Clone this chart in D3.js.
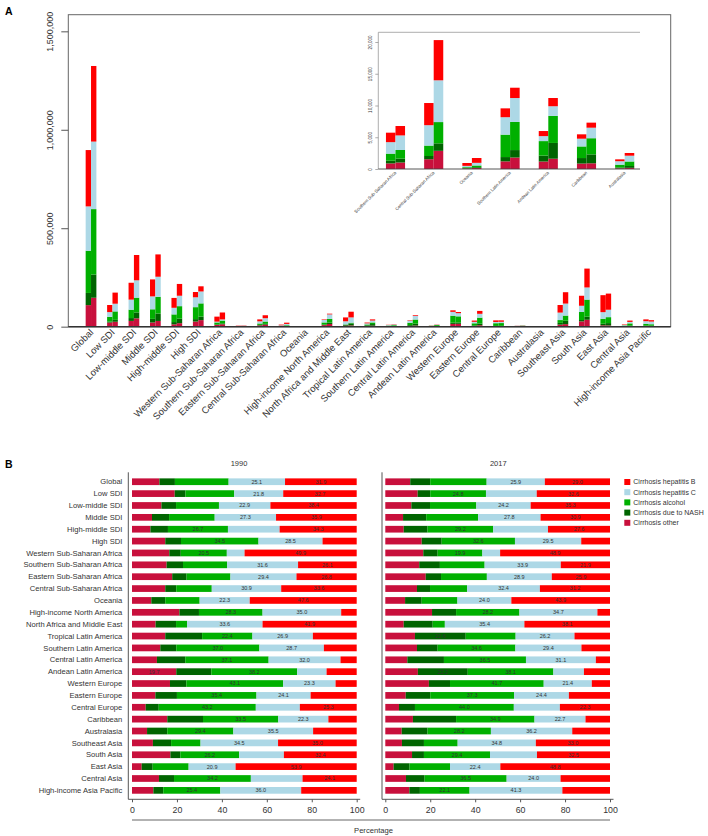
<!DOCTYPE html>
<html><head><meta charset="utf-8">
<script src="https://cdn.jsdelivr.net/npm/d3@7"></script>
<style>body{margin:0;background:#fff;} svg{display:block;font-family:"Liberation Sans",Arial,sans-serif;}</style>
</head><body><svg id="c" width="708" height="836"></svg>
<script>
const regions = ["Global","Low SDI","Low-middle SDI","Middle SDI","High-middle SDI","High SDI",
 "Western Sub-Saharan Africa","Southern Sub-Saharan Africa","Eastern Sub-Saharan Africa","Central Sub-Saharan Africa",
 "Oceania","High-income North America","North Africa and Middle East","Tropical Latin America","Southern Latin America",
 "Central Latin America","Andean Latin America","Western Europe","Eastern Europe","Central Europe","Caribbean",
 "Australasia","Southeast Asia","South Asia","East Asia","Central Asia","High-income Asia Pacific"];
const years = ["1990","2017"];
// stacking order (bottom/left first)
const causes = ["Cirrhosis other","Cirrhosis due to NASH","Cirrhosis alcohol","Cirrhosis hepatitis C","Cirrhosis hepatitis B"];
const causeColors = ["#c8103c","#006400","#00b000","#add8e6","#ff0000"];
const legendOrder = ["Cirrhosis hepatitis B","Cirrhosis hepatitis C","Cirrhosis alcohol","Cirrhosis due to NASH","Cirrhosis other"];

// total cases (panel A)
const total1990 = [897000,110000,223000,240000,146000,176000,51000,5720,37000,10390,945,37000,47000,21000,9550,33000,5980,83000,31000,32000,5460,1520,110000,157000,160000,11000,37000];
const total2017 = [1324000,173000,364000,367000,217000,205000,72000,6770,58000,20300,1730,66000,76000,37000,12800,58000,11180,74500,80000,32000,7300,2520,175000,295000,168000,31000,33000];

// percentage shares (other, NASH, alcohol, HCV, HBV)
const share1990 = [
 [12.2,6.9,23.9,25.1,31.9],[19.0,4.8,21.7,21.8,32.7],[13.1,6.5,19.1,22.9,38.4],[8.9,7.6,20.3,27.3,35.9],
 [8.2,7.8,26.7,23.0,34.3],[14.8,7.0,34.5,28.5,15.2],[16.6,5.1,20.5,7.9,49.9],[15.4,7.3,19.6,31.6,26.1],
 [17.9,6.4,19.5,29.4,26.8],[14.8,4.9,15.8,30.9,33.6],[8.6,6.2,15.3,22.3,47.6],[21.1,8.7,28.3,35.0,6.9],
 [10.5,9.1,4.9,33.6,41.9],[14.8,16.4,22.4,26.9,19.5],[12.6,7.1,37.0,28.7,14.6],[11.1,12.6,37.1,32.0,7.2],
 [19.7,15.6,38.2,13.1,13.4],[16.9,7.3,43.1,23.3,9.4],[10.4,9.6,35.4,24.1,20.5],[6.1,5.8,43.2,19.6,25.3],
 [15.7,15.9,33.5,22.3,12.6],[6.7,9.0,29.4,35.5,19.4],[9.3,8.1,13.1,34.5,35.0],[17.1,4.4,26.2,19.9,32.4],
 [4.3,4.9,16.0,20.9,53.9],[12.0,6.7,34.2,23.0,24.1],[9.5,4.4,25.4,36.0,24.7]];
const share2017 = [
 [11.1,8.9,25.1,25.9,29.0],[14.4,5.6,24.8,22.6,32.6],[11.6,8.3,20.6,24.2,35.3],[7.9,10.3,23.1,27.8,30.9],
 [8.2,10.6,29.2,24.4,27.6],[16.2,8.9,32.6,29.5,12.8],[16.9,6.4,19.9,7.9,48.9],[15.1,9.2,19.9,33.9,21.9],
 [18.0,6.8,20.4,28.9,25.9],[14.1,5.8,16.5,32.4,31.2],[8.8,7.4,15.9,24.0,43.9],[20.8,10.7,28.2,34.7,5.6],
 [8.2,12.9,5.4,35.4,38.1],[13.2,22.6,22.2,26.2,15.8],[14.1,9.2,34.6,29.4,12.7],[9.8,16.3,36.5,31.1,6.3],
 [14.5,22.2,38.1,13.6,11.6],[19.4,9.4,41.7,21.4,8.1],[9.1,10.9,37.3,24.4,18.3],[6.1,7.1,44.0,20.5,22.3],
 [12.3,19.2,34.9,22.7,10.9],[7.3,11.5,28.2,36.2,16.8],[7.4,9.8,15.0,34.8,33.0],[11.9,5.3,29.4,20.9,32.5],
 [3.7,7.1,18.0,22.4,48.8],[9.2,8.3,36.5,24.0,22.0],[10.7,4.7,22.1,41.3,21.2]];

const insetRegions = ["Southern Sub-Saharan Africa","Central Sub-Saharan Africa","Oceania","Southern Latin America","Andean Latin America","Caribbean","Australasia"];
const yTicksMain = [0,500000,1000000,1500000];
const yTicksInset = [0,5000,10000,15000,20000];
const pctTicks = [0,20,40,60,80,100];

const svg = d3.select("#c");
const txt = "#333";
const totals = {"1990": total1990, "2017": total2017};
const shares = {"1990": share1990, "2017": share2017};

function stackRows(year){
  return regions.map((r,i)=>{
    let cum=0;
    return shares[year][i].map((p,k)=>{
      const v = totals[year][i]*p/100;
      const s = {region:r, year, k, y0:cum, y1:cum+v}; cum+=v; return s;});
  });
}
const stacks = {"1990": stackRows("1990"), "2017": stackRows("2017")};

// ---------- Panel A ----------
const xA = d3.scaleBand().domain(regions).range([80.3, 659.4]).paddingInner(0).paddingOuter(0);
const xAin = d3.scaleBand().domain(years).range([0, xA.bandwidth()]).paddingInner(0).paddingOuter(1);
const yA = d3.scaleLinear().domain([0,1500000]).range([326.67, 31.33]);

svg.append("text").attr("x",5).attr("y",15).attr("font-size",10.5).attr("font-weight","bold").text("A");
svg.append("rect").attr("x",68.3).attr("y",14.7).attr("width",602.4).attr("height",312)
  .attr("fill","none").attr("stroke","#666").attr("stroke-width",1);

const gA = svg.append("g");
years.forEach(yr=>{
  stacks[yr].forEach(row=>{
    gA.selectAll(null).data(row).enter().append("rect")
      .attr("x", d=>xA(d.region)+xAin(yr))
      .attr("width", xAin.bandwidth())
      .attr("y", d=>yA(d.y1)).attr("height", d=>yA(d.y0)-yA(d.y1))
      .attr("fill", d=>causeColors[d.k]);
  });
});
svg.append("line").attr("x1",68.3).attr("x2",670.7).attr("y1",326.67).attr("y2",326.67).attr("stroke","#333").attr("stroke-width",1.5);

const axA = svg.append("g").attr("transform","translate(68.3,0)")
  .call(d3.axisLeft(yA).tickValues(yTicksMain).tickSize(7).tickFormat(d3.format(",")));
axA.select(".domain").remove();
axA.selectAll("line").attr("stroke","#555");
axA.selectAll("text").attr("transform","rotate(-90)").attr("x",0).attr("y",-15).attr("dy",0)
  .style("text-anchor","middle").attr("font-size",9).attr("fill",txt).attr("font-family","Liberation Sans, Arial, sans-serif");

svg.append("g").selectAll("text").data(regions).enter().append("text")
  .attr("transform", d=>`translate(${xA(d)+xA.bandwidth()/2+3},${333}) rotate(-45)`)
  .attr("text-anchor","end").attr("font-size",9.5).attr("fill",txt).text(d=>d);

// ---------- Inset ----------
const xI = d3.scaleBand().domain(insetRegions).range([376.4, 643.8]).paddingInner(0).paddingOuter(0);
const xIin = d3.scaleBand().domain(years).range([0, xI.bandwidth()]).paddingInner(0).paddingOuter(1);
const yI = d3.scaleLinear().domain([0,20000]).range([169, 42]);
const gI = svg.append("g");
years.forEach(yr=>{
  stacks[yr].filter(row=>insetRegions.includes(row[0].region)).forEach(row=>{
    gI.selectAll(null).data(row).enter().append("rect")
      .attr("x", d=>xI(d.region)+xIin(yr))
      .attr("width", xIin.bandwidth())
      .attr("y", d=>yI(d.y1)).attr("height", d=>yI(d.y0)-yI(d.y1))
      .attr("fill", d=>causeColors[d.k]);
  });
});
svg.append("line").attr("x1",378.3).attr("x2",640).attr("y1",32.3).attr("y2",32.3).attr("stroke","#999").attr("stroke-width",0.8);
svg.append("line").attr("x1",378.3).attr("x2",378.3).attr("y1",32.3).attr("y2",169).attr("stroke","#999").attr("stroke-width",0.8);
svg.append("line").attr("x1",378.3).attr("x2",640).attr("y1",169).attr("y2",169).attr("stroke","#444").attr("stroke-width",0.9);
const axI = svg.append("g").attr("transform","translate(378.3,0)")
  .call(d3.axisLeft(yI).tickValues(yTicksInset).tickSize(3).tickFormat(d3.format(",")));
axI.select(".domain").remove();
axI.selectAll("line").attr("stroke","#777").attr("stroke-width",0.6);
axI.selectAll("text").attr("transform","rotate(-90)").attr("x",0).attr("y",-6).attr("dy",0)
  .style("text-anchor","middle").attr("font-size",4.5).attr("fill",txt).attr("font-family","Liberation Sans, Arial, sans-serif");
svg.append("g").selectAll("text").data(insetRegions).enter().append("text")
  .attr("transform", d=>`translate(${xI(d)+xI.bandwidth()/2+1},${173}) rotate(-45)`)
  .attr("text-anchor","end").attr("font-size",4.4).attr("fill",txt).text(d=>d);

// ---------- Panel B ----------
svg.append("text").attr("x",5).attr("y",468).attr("font-size",10.5).attr("font-weight","bold").text("B");
const yB = d3.scaleBand().domain(regions).range([475.8, 796.3]).paddingInner(0.435).paddingOuter(0.2175);
const xB = {"1990": d3.scaleLinear().domain([0,100]).range([132, 356.7]),
            "2017": d3.scaleLinear().domain([0,100]).range([385.3, 610])};
const axisX0 = {"1990":128.3, "2017":382};
const titleX = {"1990":239, "2017":498.3};

years.forEach(yr=>{
  const x = xB[yr];
  const g = svg.append("g");
  regions.forEach((r,i)=>{
    const row = shares[yr][i];
    let cum=0;
    const segs = row.map((p,k)=>{const s={k,p,a:cum,b:cum+p}; cum+=p; return s;});
    g.selectAll(null).data(segs).enter().append("rect")
      .attr("x", d=>x(d.a)).attr("width", d=>x(d.b)-x(d.a))
      .attr("y", yB(r)).attr("height", yB.bandwidth())
      .attr("fill", d=>causeColors[d.k]);
    const top2 = segs.slice().sort((a,b)=>b.p-a.p).slice(0,2);
    g.selectAll(null).data(top2).enter().append("text")
      .attr("x", d=>x((d.a+d.b)/2)).attr("y", yB(r)+yB.bandwidth()/2)
      .attr("dy","0.35em").attr("text-anchor","middle").attr("font-size",5.5).attr("fill","#333")
      .text(d=>d.p.toFixed(1));
  });
  const x0 = axisX0[yr];
  svg.append("line").attr("x1",x0).attr("x2",x0).attr("y1",472.3).attr("y2",799.3).attr("stroke","#555").attr("stroke-width",1);
  svg.append("line").attr("x1",x0).attr("x2",x(100)+3.5).attr("y1",799.3).attr("y2",799.3).attr("stroke","#555").attr("stroke-width",1);
  const ax = svg.append("g").attr("transform","translate(0,799.3)")
    .call(d3.axisBottom(x).tickValues(pctTicks).tickSize(3).tickPadding(4));
  ax.select(".domain").remove();
  ax.selectAll("line").attr("stroke","#555");
  ax.selectAll("text").attr("font-size",8.8).attr("fill",txt).attr("font-family","Liberation Sans, Arial, sans-serif");
  svg.append("text").attr("x",titleX[yr]).attr("y",466).attr("text-anchor","middle").attr("font-size",7.5).attr("fill",txt).text(yr);
});

svg.append("g").selectAll("text").data(regions).enter().append("text")
  .attr("x",122.3).attr("y", d=>yB(d)+yB.bandwidth()/2).attr("dy","0.35em")
  .attr("text-anchor","end").attr("font-size",7.6).attr("fill",txt).text(d=>d);

svg.append("line").attr("x1",132).attr("x2",610).attr("y1",820).attr("y2",820).attr("stroke","#666").attr("stroke-width",1);
svg.append("text").attr("x",373.5).attr("y",833).attr("text-anchor","middle").attr("font-size",7.6).attr("fill",txt).text("Percentage");

// legend
const lg = svg.append("g");
legendOrder.forEach((c,i)=>{
  const k = causes.indexOf(c);
  const cy = 482 + i*10.2;
  lg.append("rect").attr("x",624.3).attr("y",cy-3).attr("width",6).attr("height",6).attr("fill",causeColors[k]);
  lg.append("text").attr("x",633.3).attr("y",cy).attr("dy","0.35em").attr("font-size",7).attr("fill",txt).text(c);
});
</script></body></html>
